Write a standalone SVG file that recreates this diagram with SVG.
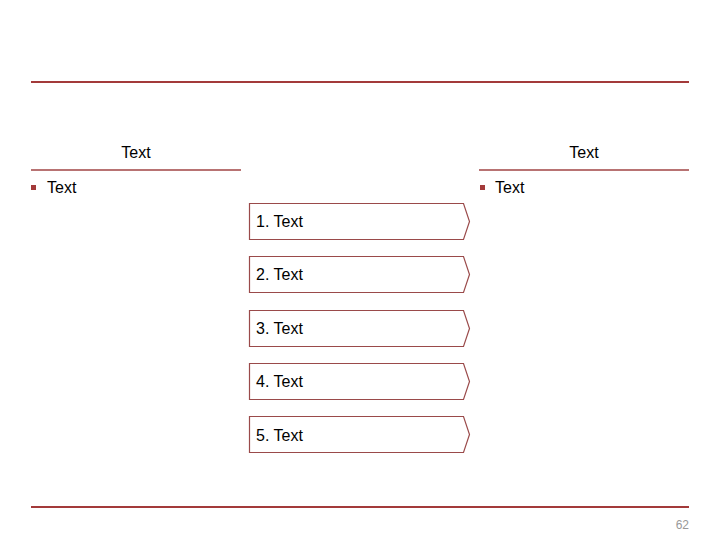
<svg xmlns="http://www.w3.org/2000/svg" width="720" height="540" viewBox="0 0 720 540">
<style>
.t{font-family:"Liberation Sans",Arial,sans-serif;font-size:16px;fill:#000}
.rule{stroke:#a33a3a;stroke-width:2;fill:none}
.sub{stroke:#a04545;stroke-width:1.3;fill:none}
.box{fill:#fff;stroke:#9a4a4a;stroke-width:1.2}
.bul{fill:#a33a3a}
.pg{font-family:"Liberation Sans",Arial,sans-serif;font-size:12px;fill:#999}
</style>
<rect width="720" height="540" fill="#fff"/>
<line class="rule" x1="31" y1="82" x2="689" y2="82"/>
<line class="rule" x1="31" y1="507" x2="689" y2="507"/>
<g id="left">
<text class="t" x="136" y="158" text-anchor="middle">Text</text>
<line class="sub" x1="31" y1="170" x2="241" y2="170"/>
<rect class="bul" x="31" y="185" width="5" height="5"/>
<text class="t" x="47" y="193">Text</text>
</g>
<g id="right">
<text class="t" x="584" y="158" text-anchor="middle">Text</text>
<line class="sub" x1="479" y1="170" x2="689" y2="170"/>
<rect class="bul" x="480" y="185" width="5" height="5"/>
<text class="t" x="495" y="193">Text</text>
</g>
<g id="n1"><path class="box" d="M249.5 203.5H463.5L469.5 221.5L463.5 239.5H249.5Z"/><text class="t" x="256" y="227">1. Text</text></g>
<g id="n2"><path class="box" d="M249.5 256.5H463.5L469.5 274.5L463.5 292.5H249.5Z"/><text class="t" x="256" y="280">2. Text</text></g>
<g id="n3"><path class="box" d="M249.5 310.5H463.5L469.5 328.5L463.5 346.5H249.5Z"/><text class="t" x="256" y="334">3. Text</text></g>
<g id="n4"><path class="box" d="M249.5 363.5H463.5L469.5 381.5L463.5 399.5H249.5Z"/><text class="t" x="256" y="387">4. Text</text></g>
<g id="n5"><path class="box" d="M249.5 416.5H463.5L469.5 434.5L463.5 452.5H249.5Z"/><text class="t" x="256" y="441">5. Text</text></g>
<g id="connectors"></g>
<text class="pg" x="689" y="529" text-anchor="end">62</text>
</svg>
